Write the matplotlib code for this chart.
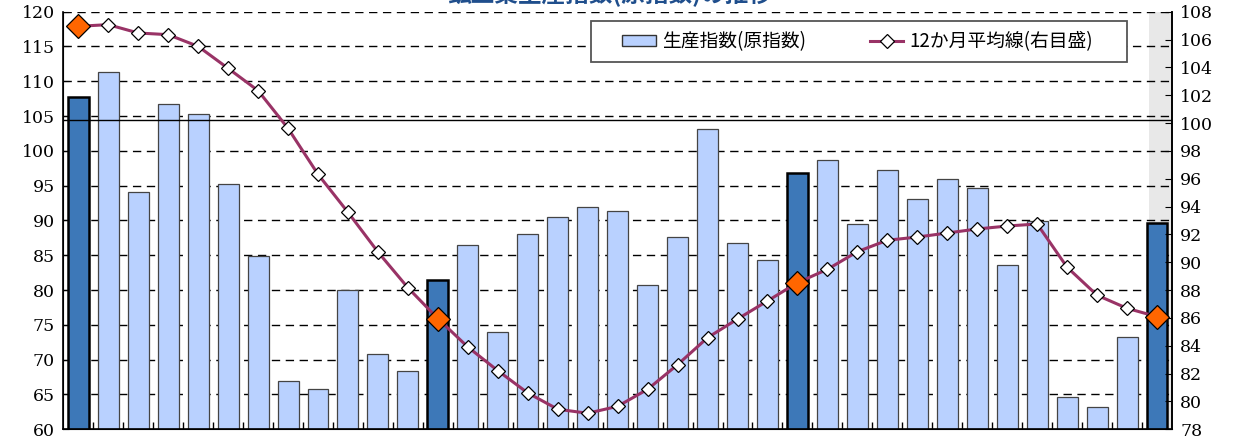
import matplotlib.pyplot as plt
from matplotlib.patches import Rectangle, Patch
from matplotlib.lines import Line2D
import numpy as np

plt.rcParams['font.family'] = ['Noto Sans CJK JP', 'DejaVu Sans']

# 生産指数(原指数) 左目盛
production = [107.7, 111.3, 94.1, 106.8, 105.3, 95.3, 84.9, 67.0, 65.8, 80.0,
              70.8, 68.4, 81.5, 86.5, 74.0, 88.0, 90.5, 91.9, 91.3, 80.7,
              87.6, 103.1, 86.7, 84.3, 96.8, 98.7, 89.5, 97.3, 93.1, 96.0,
              94.6, 83.6, 89.9, 64.6, 63.2, 73.2, 89.7]
# 12か月平均線 右目盛
avg12 = [106.95, 107.07, 106.47, 106.35, 105.51, 103.93, 102.33, 99.62, 96.32, 93.59,
         90.74, 88.17, 85.95, 83.91, 82.21, 80.61, 79.44, 79.15, 79.65, 80.87,
         82.64, 84.58, 85.92, 87.22, 88.53, 89.49, 90.76, 91.58, 91.81, 92.10,
         92.39, 92.60, 92.75, 89.64, 87.63, 86.69, 86.09]
highlight = [0, 12, 24, 36]

left_ticks = list(range(60, 121, 5))
right_ticks = list(range(78, 109, 2))

x = np.arange(len(production))
light = '#B9D1FF'
dark = '#3D78B8'
plum = '#993366'

fig = plt.figure(figsize=(12.46, 4.43), dpi=100)
ax = fig.add_axes([0.0508, 0.031, 0.8898, 0.9426])

ax.axvspan(35.72, 36.5, color='#E8E8E8', zorder=0, lw=0)

for v in left_ticks[1:]:
    ax.axhline(v, color='black', lw=1.0, ls=(0, (6, 4)), zorder=1)

colors = [dark if i in highlight else light for i in x]
edges = ['black' if i in highlight else '#444444' for i in x]
lws = [1.8 if i in highlight else 0.9 for i in x]
ax.bar(x, production, width=0.7, color=colors, edgecolor=edges,
       linewidth=lws, zorder=2)

ax.set_xlim(-0.5, 36.5)
ax.set_ylim(60, 120)
ax.set_yticks(left_ticks)
ax.set_xticks(x[:-1] + 0.5)
ax.set_xticklabels([])
ax.tick_params(axis='x', direction='in', length=5, width=1)
ax.tick_params(axis='y', direction='in', length=4, labelsize=12.5, pad=6)
for lbl in ax.get_yticklabels():
    lbl.set_family('DejaVu Serif')
ax.spines['top'].set_visible(False)
for s in ['left', 'bottom', 'right']:
    ax.spines[s].set_linewidth(1.2)

ax2 = ax.twinx()
ax2.set_ylim(78, 108)
ax2.set_yticks(right_ticks)
ax2.tick_params(axis='y', direction='in', length=5, labelsize=12.5, pad=6)
for lbl in ax2.get_yticklabels():
    lbl.set_family('DejaVu Serif')
ax2.spines['top'].set_visible(False)
ax2.spines['right'].set_linewidth(1.2)
ax2.axhline(100.2, color='black', lw=1.0, zorder=3)

ax2.plot(x, avg12, color=plum, lw=2.2, marker='D', markersize=7,
         markerfacecolor='white', markeredgecolor='black', markeredgewidth=0.9,
         zorder=4)
ax2.plot(x[highlight], np.array(avg12)[highlight], ls='none', marker='D',
         markersize=12, markerfacecolor='#FF6600', markeredgecolor='black',
         markeredgewidth=0.9, zorder=5)

# 凡例（枠は別に描く）
box = Rectangle((0.476, 0.8796), 0.959 - 0.476, 0.9777 - 0.8796,
                transform=ax2.transAxes, facecolor='white', edgecolor='#555555',
                lw=1.3, zorder=8)
ax2.add_patch(box)
handles = [Patch(facecolor=light, edgecolor='#333333', lw=1.0),
           Line2D([], [], color=plum, lw=2.2, marker='D', markersize=7,
                  markerfacecolor='white', markeredgecolor='black',
                  markeredgewidth=0.9)]
leg = ax2.legend(handles, ['生産指数(原指数)', '12か月平均線(右目盛)'], ncol=2,
                 loc='center', bbox_to_anchor=(0.7165, 0.9284), fontsize=13.5,
                 frameon=False, borderpad=0, columnspacing=3.4,
                 handlelength=1.8, handleheight=0.55, handletextpad=0.32)
leg.set_zorder(10)

fig.text(0.49, 1 - 2 / 443, '鉱工業生産指数(原指数)の推移', ha='center',
         va='baseline', fontsize=17, fontweight='bold', color='#1F4E8C')

fig.savefig('out.png', dpi=100)
